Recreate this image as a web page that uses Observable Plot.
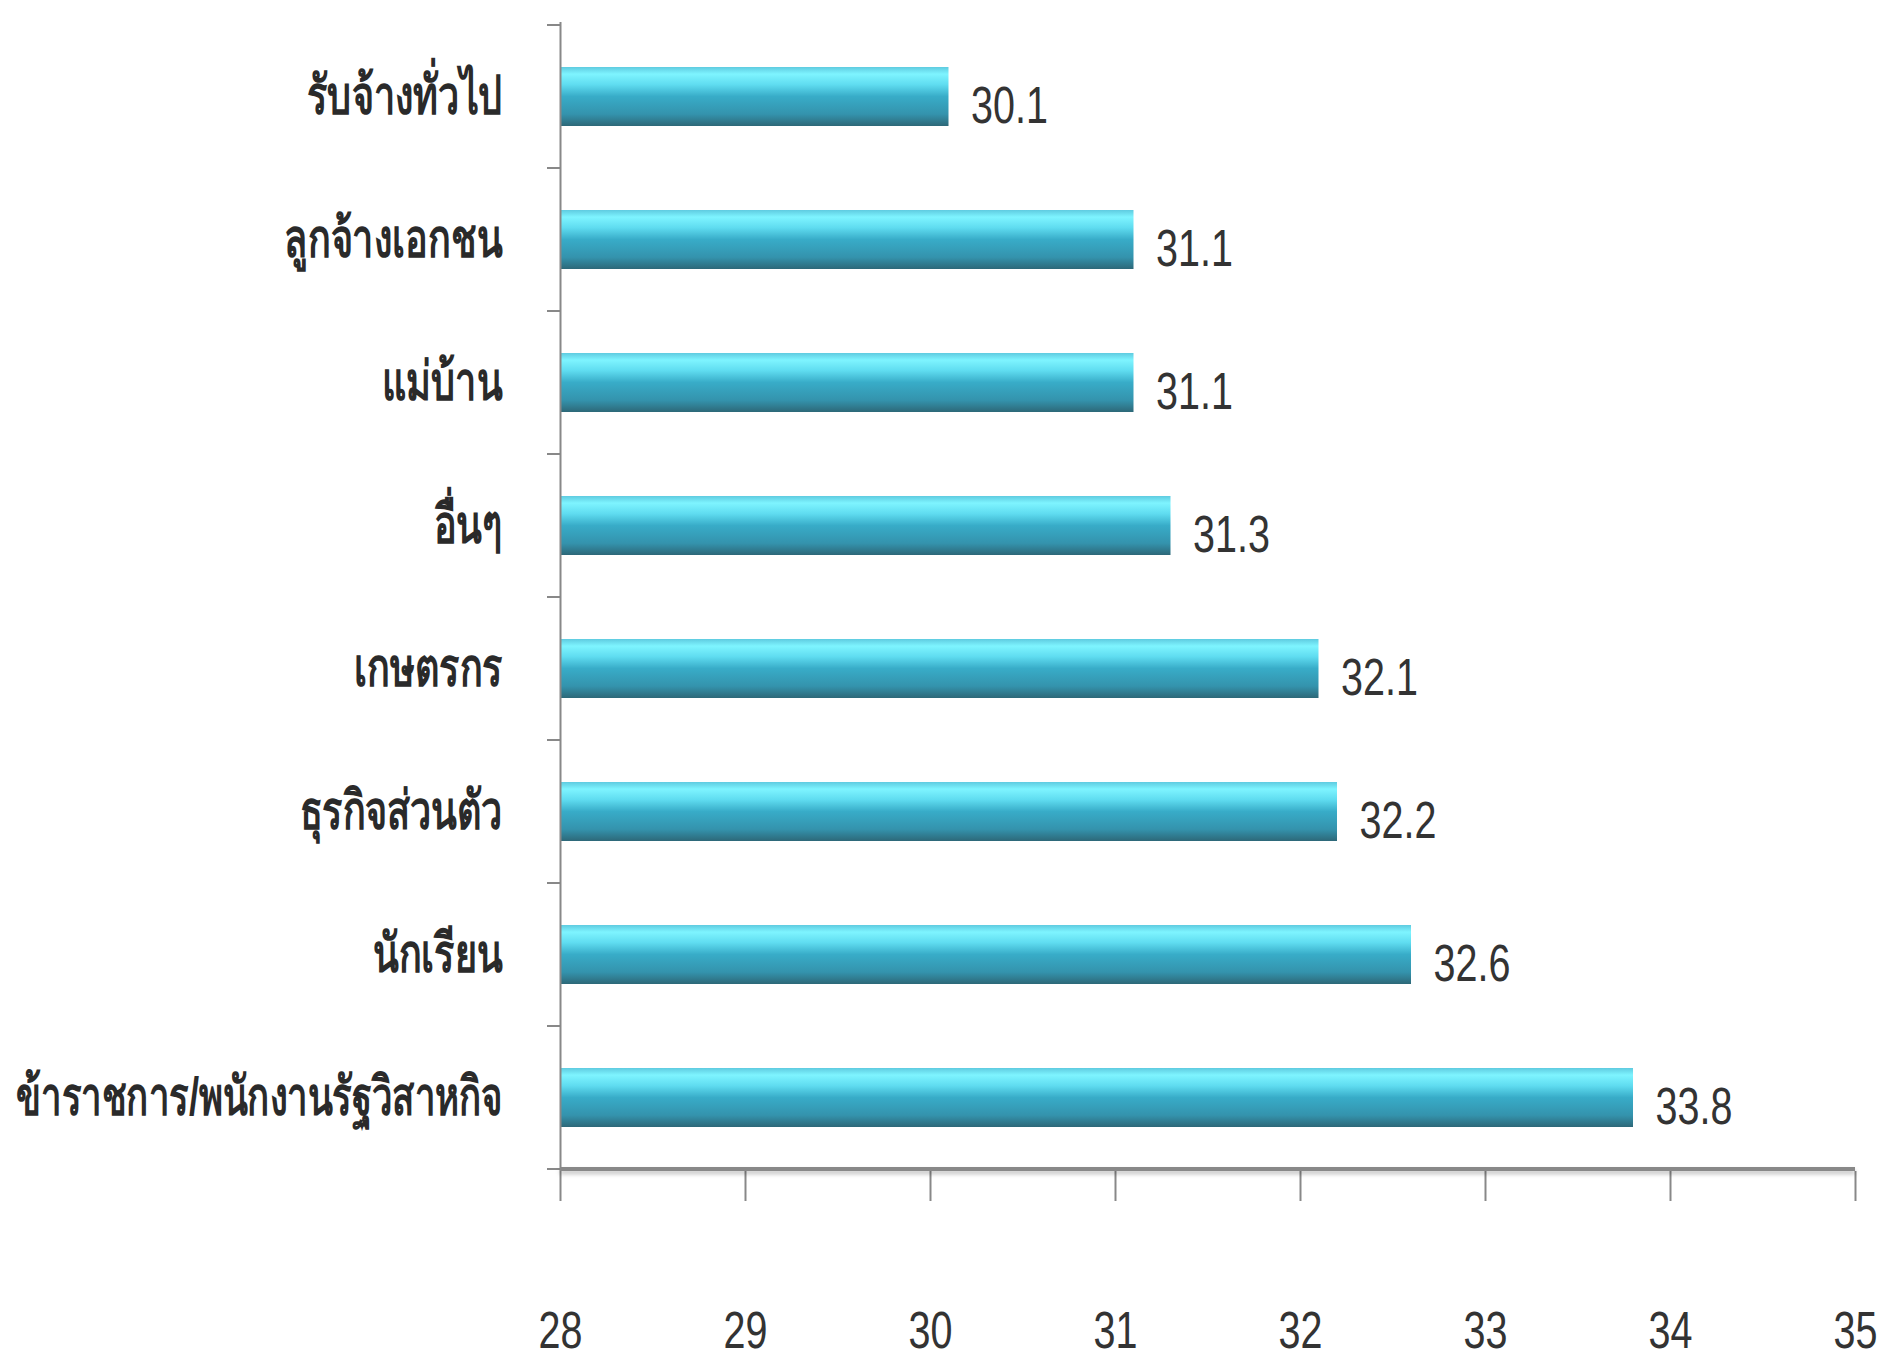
<!DOCTYPE html>
<html>
<head>
<meta charset="utf-8">
<script src="https://cdn.jsdelivr.net/npm/d3@7"></script>
<script src="https://cdn.jsdelivr.net/npm/@observablehq/plot@0.6"></script>
<style>
  html, body { margin: 0; padding: 0; background: #fff; }
  #chart svg { display: block; }
</style>
</head>
<body>
<div id="chart"></div>
<script>
const categories = [
  "รับจ้างทั่วไป",
  "ลูกจ้างเอกชน",
  "แม่บ้าน",
  "อื่นๆ",
  "เกษตรกร",
  "ธุรกิจส่วนตัว",
  "นักเรียน",
  "ข้าราชการ/พนักงานรัฐวิสาหกิจ"
];
const values = [30.1, 31.1, 31.1, 31.3, 32.1, 32.2, 32.6, 33.8];
const xDomain = [28, 35];
const xTicks = [28, 29, 30, 31, 32, 33, 34, 35];

const data = categories.map((c, i) => ({category: c, value: values[i]}));

const FONT = "'Liberation Sans', 'Noto Sans', sans-serif";

const plot = Plot.plot({
  width: 1883,
  height: 1369,
  marginLeft: 560,
  marginRight: 28,
  marginTop: 22,
  marginBottom: 198,
  style: {fontFamily: FONT, background: "#fff", color: "#333"},
  x: {domain: xDomain, ticks: xTicks},
  y: {domain: categories, paddingInner: 0.59, paddingOuter: 0.295},
  marks: [
    Plot.barX(data, {
      x1: xDomain[0], x2: "value", y: "category",
      fill: "url(#barGrad)",
      style: {filter: "drop-shadow(0px 9px 5px rgba(0,0,0,0.35))"}
    }),
    Plot.text(data, {
      x: "value", y: "category", text: d => d.value.toFixed(1),
      textAnchor: "start", dx: 22, dy: 9,
      fontSize: 52, fill: "#333", className: "vlabel"
    }),
    Plot.axisX({
      ticks: xTicks, tickSize: 30, tickPadding: 110,
      fontSize: 52, stroke: "#888", strokeWidth: 2, fill: "#333",
      label: null, tickFormat: d => String(d), className: "xlab"
    }),
    Plot.axisY({
      tickSize: 0, tickPadding: 58, fontSize: 54, fontWeight: "bold",
      fill: "#2a2a2a", label: null, className: "ylab"
    }),
    Plot.ruleX([xDomain[0]], {stroke: "#888", strokeWidth: 2})
  ]
});

document.getElementById("chart").appendChild(plot);
const svg = d3.select(plot);

// condense text horizontally (reference uses a narrow typeface)
function condense(sel, kFn) {
  sel.each(function() {
    const t = d3.select(this);
    const k = typeof kFn === "function" ? kFn(this) : kFn;
    const tr = t.attr("transform");
    if (tr) {
      t.attr("transform", tr + ` scale(${k},1)`);
    } else {
      const x = +t.attr("x") || 0, y = +t.attr("y") || 0;
      t.attr("x", null).attr("y", null)
        .attr("transform", `translate(${x},${y}) scale(${k},1)`);
    }
  });
}
condense(svg.selectAll("g.vlabel text"), 0.76);
condense(svg.selectAll("g.xlab text"), 0.76);
const avail = 560 - 58 - 14;
condense(svg.selectAll("g.ylab text"), el => Math.min(0.7, avail / el.getComputedTextLength()));

const defs = svg.insert("defs", ":first-child");
const g = defs.append("linearGradient").attr("id", "barGrad")
  .attr("x1", 0).attr("y1", 0).attr("x2", 0).attr("y2", 1);
[
  [0, "#5fcbe0"], [0.12, "#7ef4ff"], [0.3, "#5fdcf0"], [0.5, "#38acc8"],
  [0.8, "#3493ad"], [1, "#2d6878"]
].forEach(([o, c]) => g.append("stop").attr("offset", o).attr("stop-color", c));

// y-axis ticks at band boundaries, x-axis baseline
const ys = plot.scale("y");
const xs = plot.scale("x");
const gap = (ys.step - ys.bandwidth) / 2;
const bounds = categories.map(c => ys.apply(c) - gap);
bounds.push(ys.apply(categories[categories.length - 1]) + ys.bandwidth + gap);
const x0 = xs.apply(xDomain[0]);
const ax = svg.append("g").attr("stroke", "#888").attr("stroke-width", 2);
bounds.forEach(b => ax.append("line")
  .attr("x1", x0 - 13).attr("x2", x0).attr("y1", b).attr("y2", b));
const yb = bounds[bounds.length - 1];
svg.append("line").attr("x1", x0).attr("x2", xs.apply(xDomain[1]))
  .attr("y1", yb).attr("y2", yb)
  .attr("stroke", "#888").attr("stroke-width", 4)
  .style("filter", "drop-shadow(0px 3px 2px rgba(0,0,0,0.25))");
</script>
</body>
</html>
